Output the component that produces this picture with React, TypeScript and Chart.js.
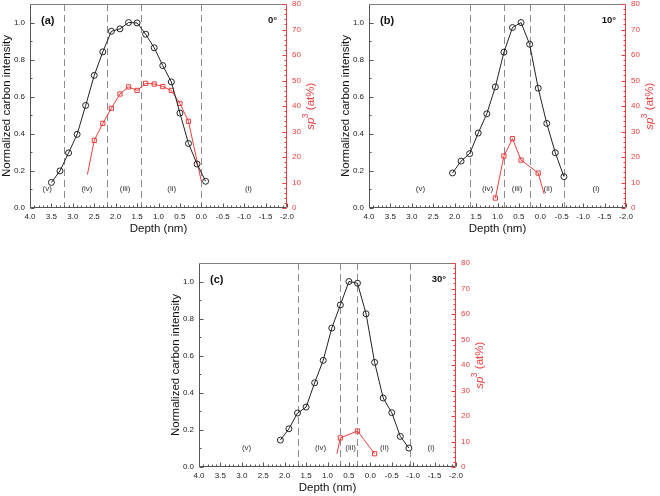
import React, { useEffect, useRef } from "react";
import { Chart, registerables } from "chart.js";

Chart.register(...registerables);

// ---------- Data ----------
// Panel (a), 0°
const depthCarbonA = [3.5, 3.3, 3.1, 2.9, 2.7, 2.5, 2.3, 2.1, 1.9, 1.7, 1.5, 1.3, 1.1, 0.9, 0.7, 0.5, 0.3, 0.1, -0.1];
const carbonA = [0.138, 0.2, 0.297, 0.397, 0.553, 0.715, 0.842, 0.953, 0.966, 1.0, 0.998, 0.937, 0.864, 0.768, 0.68, 0.512, 0.348, 0.237, 0.144];
const depthSp3A = [2.66, 2.5, 2.3, 2.1, 1.9, 1.7, 1.5, 1.3, 1.1, 0.9, 0.7, 0.5, 0.3, 0.0];
const sp3A = [13.1, 26.5, 33.2, 39.1, 44.7, 47.5, 46.1, 48.9, 48.6, 47.6, 46.1, 41.0, 34.0, 10.5];
const sp3MarkedA = [false, true, true, true, true, true, true, true, true, true, true, true, true, false];
const dividersA = [3.2, 2.2, 1.4, 0.0];
const regionPosA = [3.6, 2.67, 1.78, 0.69, -1.1];

// Panel (b), 10°
const depthCarbonB = [2.05, 1.85, 1.65, 1.45, 1.25, 1.05, 0.85, 0.65, 0.45, 0.25, 0.05, -0.15, -0.35, -0.55];
const carbonB = [0.189, 0.253, 0.293, 0.404, 0.508, 0.653, 0.84, 0.973, 1.0, 0.883, 0.646, 0.456, 0.298, 0.169];
const depthSp3B = [1.05, 0.85, 0.65, 0.45, 0.05, -0.09];
const sp3B = [3.9, 20.4, 27.2, 18.8, 13.7, 5.5];
const sp3MarkedB = [true, true, true, true, true, false];
const dividersB = [1.65, 0.85, 0.25, -0.55];
const regionPosB = [2.8, 1.23, 0.54, -0.18, -1.3];

// Panel (c), 30°
const depthCarbonC = [2.1, 1.9, 1.7, 1.5, 1.3, 1.1, 0.9, 0.7, 0.5, 0.3, 0.1, -0.1, -0.3, -0.5, -0.7, -0.9];
const carbonC = [0.145, 0.206, 0.291, 0.323, 0.454, 0.575, 0.749, 0.874, 1.0, 0.991, 0.826, 0.564, 0.372, 0.293, 0.165, 0.102];
const depthSp3C = [0.78, 0.7, 0.3, -0.1];
const sp3C = [5.2, 11.4, 14.1, 5.2];
const sp3MarkedC = [false, true, true, true];
const dividersC = [1.7, 0.7, 0.3, -0.93];
const regionPosC = [2.89, 1.16, 0.46, -0.33, -1.42];

const regionLabels = ["(v)", "(iv)", "(iii)", "(ii)", "(i)"];
const regionLabelY = 0.105;

// Axis ranges / ticks
const depthMin = -2;
const depthMax = 4;
const depthStep = 0.5;
const carbonMax = 1.1;
const carbonStep = 0.2;
const sp3Max = 80;
const sp3Step = 10;

// ---------- Styles ----------
const FONT = "'Liberation Sans', Arial, Helvetica, sans-serif";
const RED = "rgb(236,62,62)";
const BLACK = "#222";

const M = { l: 40, r: 45, t: 12, b: 34 };
const PW = 257;
const PH = 204;

const decorPlugin = {
  id: "decor",
  beforeDatasetsDraw(chart: any, _a: any, opts: any) {
    const { ctx, chartArea: a, scales } = chart;
    const x = scales.x;
    const y = scales.y;
    ctx.save();
    ctx.strokeStyle = "#8c8c8c";
    ctx.lineWidth = 1;
    ctx.setLineDash([7, 4]);
    for (const d of opts.dividers) {
      const px = Math.round(x.getPixelForValue(d)) + 0.5;
      ctx.beginPath();
      ctx.moveTo(px, a.top);
      ctx.lineTo(px, a.bottom);
      ctx.stroke();
    }
    ctx.setLineDash([]);
    ctx.fillStyle = "#333";
    ctx.font = `8px ${FONT}`;
    ctx.textAlign = "center";
    ctx.textBaseline = "middle";
    regionLabels.forEach((t, i) => {
      ctx.fillText(t, x.getPixelForValue(opts.regionPos[i]), y.getPixelForValue(regionLabelY));
    });
    ctx.restore();
  },
  afterDraw(chart: any, _a: any, opts: any) {
    const { ctx, chartArea: a, scales } = chart;
    const x = scales.x;
    const y = scales.y;
    const y2 = scales.y2;
    const L = a.left + 0.5;
    const R = a.right - 0.5;
    const T = a.top + 0.5;
    const B = a.bottom - 0.5;
    ctx.save();
    ctx.lineWidth = 1;
    // frame
    ctx.strokeStyle = "#808080";
    ctx.beginPath();
    ctx.moveTo(L, T);
    ctx.lineTo(R, T);
    ctx.stroke();
    ctx.strokeStyle = "#555";
    ctx.beginPath();
    ctx.moveTo(L, T);
    ctx.lineTo(L, B);
    ctx.lineTo(R, B);
    ctx.stroke();
    // bottom ticks
    for (let k = depthMin * 10; k <= depthMax * 10; k++) {
      const px = Math.round(x.getPixelForValue(k / 10)) + 0.5;
      const len = k % 5 === 0 ? 4 : 2;
      ctx.beginPath();
      ctx.moveTo(px, B);
      ctx.lineTo(px, B - len);
      ctx.stroke();
    }
    // left ticks
    for (let k = 0; k <= 10; k++) {
      const py = Math.round(y.getPixelForValue(k / 10)) + 0.5;
      const len = k % 2 === 0 ? 4 : 2;
      ctx.beginPath();
      ctx.moveTo(L, py);
      ctx.lineTo(L + len, py);
      ctx.stroke();
    }
    // right axis
    ctx.strokeStyle = RED;
    ctx.beginPath();
    ctx.moveTo(R, T);
    ctx.lineTo(R, B);
    ctx.stroke();
    for (let v = 0; v <= sp3Max; v += 2) {
      const py = Math.round(y2.getPixelForValue(v)) + 0.5;
      const len = v % 10 === 0 ? 4 : 2;
      ctx.beginPath();
      ctx.moveTo(R, py);
      ctx.lineTo(R - len, py);
      ctx.stroke();
    }
    // titles
    const cy = (a.top + a.bottom) / 2;
    const cx = (a.left + a.right) / 2;
    ctx.fillStyle = "#111";
    ctx.font = `11.5px ${FONT}`;
    ctx.textAlign = "center";
    ctx.textBaseline = "middle";
    ctx.fillText("Depth (nm)", cx, a.bottom + 21);
    ctx.save();
    ctx.translate(a.left - 23, cy);
    ctx.rotate(-Math.PI / 2);
    ctx.fillText("Normalized carbon intensity", 0, 0);
    ctx.restore();
    // right title: sp^3 (at%)
    ctx.save();
    ctx.translate(a.right + 24, cy);
    ctx.rotate(-Math.PI / 2);
    ctx.fillStyle = RED;
    ctx.textAlign = "left";
    ctx.textBaseline = "middle";
    const f1 = `italic 11.5px ${FONT}`;
    const f2 = `8.5px ${FONT}`;
    const f3 = `11.5px ${FONT}`;
    ctx.font = f1;
    const w1 = ctx.measureText("sp").width;
    ctx.font = f2;
    const w2 = ctx.measureText("3").width;
    ctx.font = f3;
    const w3 = ctx.measureText(" (at%)").width;
    let sx = -(w1 + w2 + w3) / 2;
    ctx.font = f1;
    ctx.fillText("sp", sx, 0);
    sx += w1 - 0.5;
    ctx.font = f2;
    ctx.fillText("3", sx, -5);
    sx += w2;
    ctx.font = f3;
    ctx.fillText(" (at%)", sx, 0);
    ctx.restore();
    // panel label & angle
    ctx.fillStyle = "#111";
    ctx.font = `bold 11px ${FONT}`;
    ctx.textAlign = "left";
    ctx.textBaseline = "middle";
    ctx.fillText(opts.panel, a.left + 11, a.top + 17);
    ctx.font = `bold 9.5px ${FONT}`;
    ctx.textAlign = "right";
    ctx.fillText(opts.angle, a.right - 10, a.top + 16);
    ctx.restore();
  },
};

type PanelProps = {
  plotLeft: number;
  plotTop: number;
  depthCarbon: number[];
  carbon: number[];
  depthSp3: number[];
  sp3: number[];
  sp3Marked: boolean[];
  dividers: number[];
  regionPos: number[];
  panel: string;
  angle: string;
};

function Panel(p: PanelProps) {
  const ref = useRef<HTMLCanvasElement>(null);
  const W = M.l + PW + M.r;
  const H = M.t + PH + M.b;
  useEffect(() => {
    const tickFont = { family: FONT, size: 8 };
    const chart = new Chart(ref.current as HTMLCanvasElement, {
      type: "line",
      data: {
        datasets: [
          {
            label: "carbon",
            data: p.depthCarbon.map((d, i) => ({ x: d, y: p.carbon[i] })),
            xAxisID: "x",
            yAxisID: "y",
            borderColor: BLACK,
            borderWidth: 1,
            pointStyle: "circle",
            pointRadius: 3,
            pointBorderColor: BLACK,
            pointBackgroundColor: "rgba(0,0,0,0)",
            pointBorderWidth: 1,
            tension: 0,
          },
          {
            label: "sp3",
            data: p.depthSp3.map((d, i) => ({ x: d, y: p.sp3[i] })),
            xAxisID: "x",
            yAxisID: "y2",
            borderColor: RED,
            borderWidth: 1,
            pointStyle: "rect",
            pointRadius: p.sp3Marked.map((m) => (m ? 3 : 0)),
            pointBorderColor: RED,
            pointBackgroundColor: "rgba(0,0,0,0)",
            pointBorderWidth: 1,
            tension: 0,
          },
        ],
      } as any,
      options: {
        responsive: false,
        animation: false,
        events: [],
        layout: { padding: { top: M.t, left: 0, right: 0, bottom: 0 } },
        plugins: {
          legend: { display: false },
          tooltip: { enabled: false },
          decor: { dividers: p.dividers, regionPos: p.regionPos, panel: p.panel, angle: p.angle },
        } as any,
        scales: {
          x: {
            type: "linear",
            reverse: true,
            min: depthMin,
            max: depthMax,
            grid: { display: false, drawTicks: false },
            border: { display: false },
            ticks: {
              stepSize: depthStep,
              autoSkip: false,
              maxRotation: 0,
              padding: 4,
              color: "#222",
              font: tickFont,
              callback: (v: any) => Number(v).toFixed(1),
            },
            afterFit: (s: any) => {
              s.height = M.b;
            },
          },
          y: {
            type: "linear",
            position: "left",
            min: 0,
            max: carbonMax,
            grid: { display: false, drawTicks: false },
            border: { display: false },
            ticks: {
              stepSize: carbonStep,
              includeBounds: false,
              padding: 5,
              color: "#222",
              font: tickFont,
              callback: (v: any) => Number(v).toFixed(1),
            },
            afterFit: (s: any) => {
              s.width = M.l;
            },
          },
          y2: {
            type: "linear",
            position: "right",
            min: 0,
            max: sp3Max,
            grid: { display: false, drawTicks: false },
            border: { display: false },
            ticks: {
              stepSize: sp3Step,
              padding: 5,
              color: RED,
              font: tickFont,
              callback: (v: any) => String(Math.round(Number(v))),
            },
            afterFit: (s: any) => {
              s.width = M.r;
            },
          },
        } as any,
      },
      plugins: [decorPlugin],
    });
    return () => chart.destroy();
  }, []);
  return (
    <canvas
      ref={ref}
      width={W}
      height={H}
      style={{ position: "absolute", left: p.plotLeft - M.l, top: p.plotTop - M.t, width: W, height: H }}
    />
  );
}

export default function App() {
  useEffect(() => {
    document.body.style.margin = "0";
  }, []);
  return (
    <div style={{ position: "relative", width: 660, height: 496, overflow: "hidden", background: "#fff" }}>
      <Panel
        plotLeft={30}
        plotTop={4}
        depthCarbon={depthCarbonA}
        carbon={carbonA}
        depthSp3={depthSp3A}
        sp3={sp3A}
        sp3Marked={sp3MarkedA}
        dividers={dividersA}
        regionPos={regionPosA}
        panel="(a)"
        angle="0°"
      />
      <Panel
        plotLeft={369}
        plotTop={4}
        depthCarbon={depthCarbonB}
        carbon={carbonB}
        depthSp3={depthSp3B}
        sp3={sp3B}
        sp3Marked={sp3MarkedB}
        dividers={dividersB}
        regionPos={regionPosB}
        panel="(b)"
        angle="10°"
      />
      <Panel
        plotLeft={199}
        plotTop={263}
        depthCarbon={depthCarbonC}
        carbon={carbonC}
        depthSp3={depthSp3C}
        sp3={sp3C}
        sp3Marked={sp3MarkedC}
        dividers={dividersC}
        regionPos={regionPosC}
        panel="(c)"
        angle="30°"
      />
    </div>
  );
}
